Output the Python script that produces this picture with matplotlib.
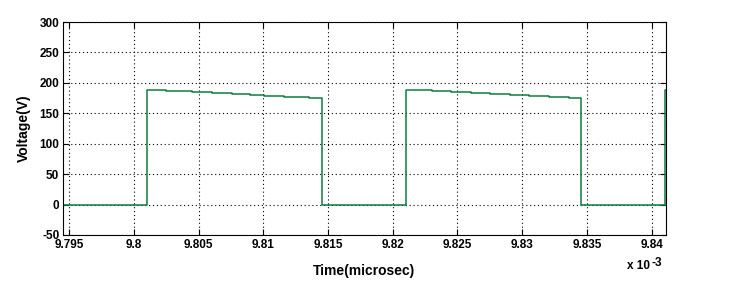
import matplotlib
matplotlib.use("Agg")
import matplotlib.pyplot as plt

# time in units of 1e-3 s; each voltage holds until the next time (step waveform)
t_pts = [9.7945, 9.80103, 9.8025, 9.80446, 9.80606, 9.80755, 9.80901,
         9.81004, 9.81158, 9.81352, 9.8145,
         9.82103, 9.82305, 9.82454, 9.82606, 9.82755, 9.82904,
         9.83056, 9.83205, 9.8336, 9.83452, 9.84103, 9.8412]
v_pts = [0, 187.8, 186.1, 184.5, 182.8, 181.2, 179.6,
         177.9, 176.3, 174.6, 0,
         187.8, 186.1, 184.5, 182.8, 181.2, 179.6,
         177.9, 176.3, 174.6, 0, 187.8, 187.8]

x_ticks = [9.795, 9.8, 9.805, 9.81, 9.815, 9.82, 9.825, 9.83, 9.835, 9.84]
x_labels = ["9.795", "9.8", "9.805", "9.81", "9.815", "9.82", "9.825", "9.83", "9.835", "9.84"]
y_ticks = [-50, 0, 50, 100, 150, 200, 250, 300]

plt.rcParams['font.family'] = ['Liberation Sans', 'DejaVu Sans']
plt.rcParams['font.weight'] = 'bold'
plt.rcParams['font.size'] = 8.5
plt.rcParams['axes.unicode_minus'] = False

fig = plt.figure(figsize=(7.44, 2.95), dpi=100)
ax = fig.add_axes([0.0853, 0.2034, 0.8092, 0.7220])

ax.plot(t_pts, v_pts, color='#0b7d3e', lw=1.1, drawstyle='steps-post')

ax.set_xlim(9.79457, 9.84107)
ax.set_ylim(-50, 300)
ax.set_xticks(x_ticks)
ax.set_xticklabels(x_labels)
ax.set_yticks(y_ticks)
ax.grid(True, color='black', linestyle=(0, (1, 2.5)), linewidth=0.8)
ax.tick_params(direction='in', top=True, right=True, length=4, width=0.8,
               labelsize=8.5)
ax.tick_params(axis='x', pad=3)
ax.tick_params(axis='y', pad=3)
for s in ax.spines.values():
    s.set_linewidth(0.8)

ax.set_xlabel("Time(microsec)", fontweight='bold', fontsize=10, labelpad=9)
ax.set_ylabel("Voltage(V)", fontweight='bold', fontsize=10, labelpad=6)
fig.text(0.843, 0.088, "x 10", fontsize=8.5, fontweight='bold')
fig.text(0.875, 0.100, "-3", fontsize=8.5, fontweight='bold')

fig.savefig("out.png", dpi=100)
